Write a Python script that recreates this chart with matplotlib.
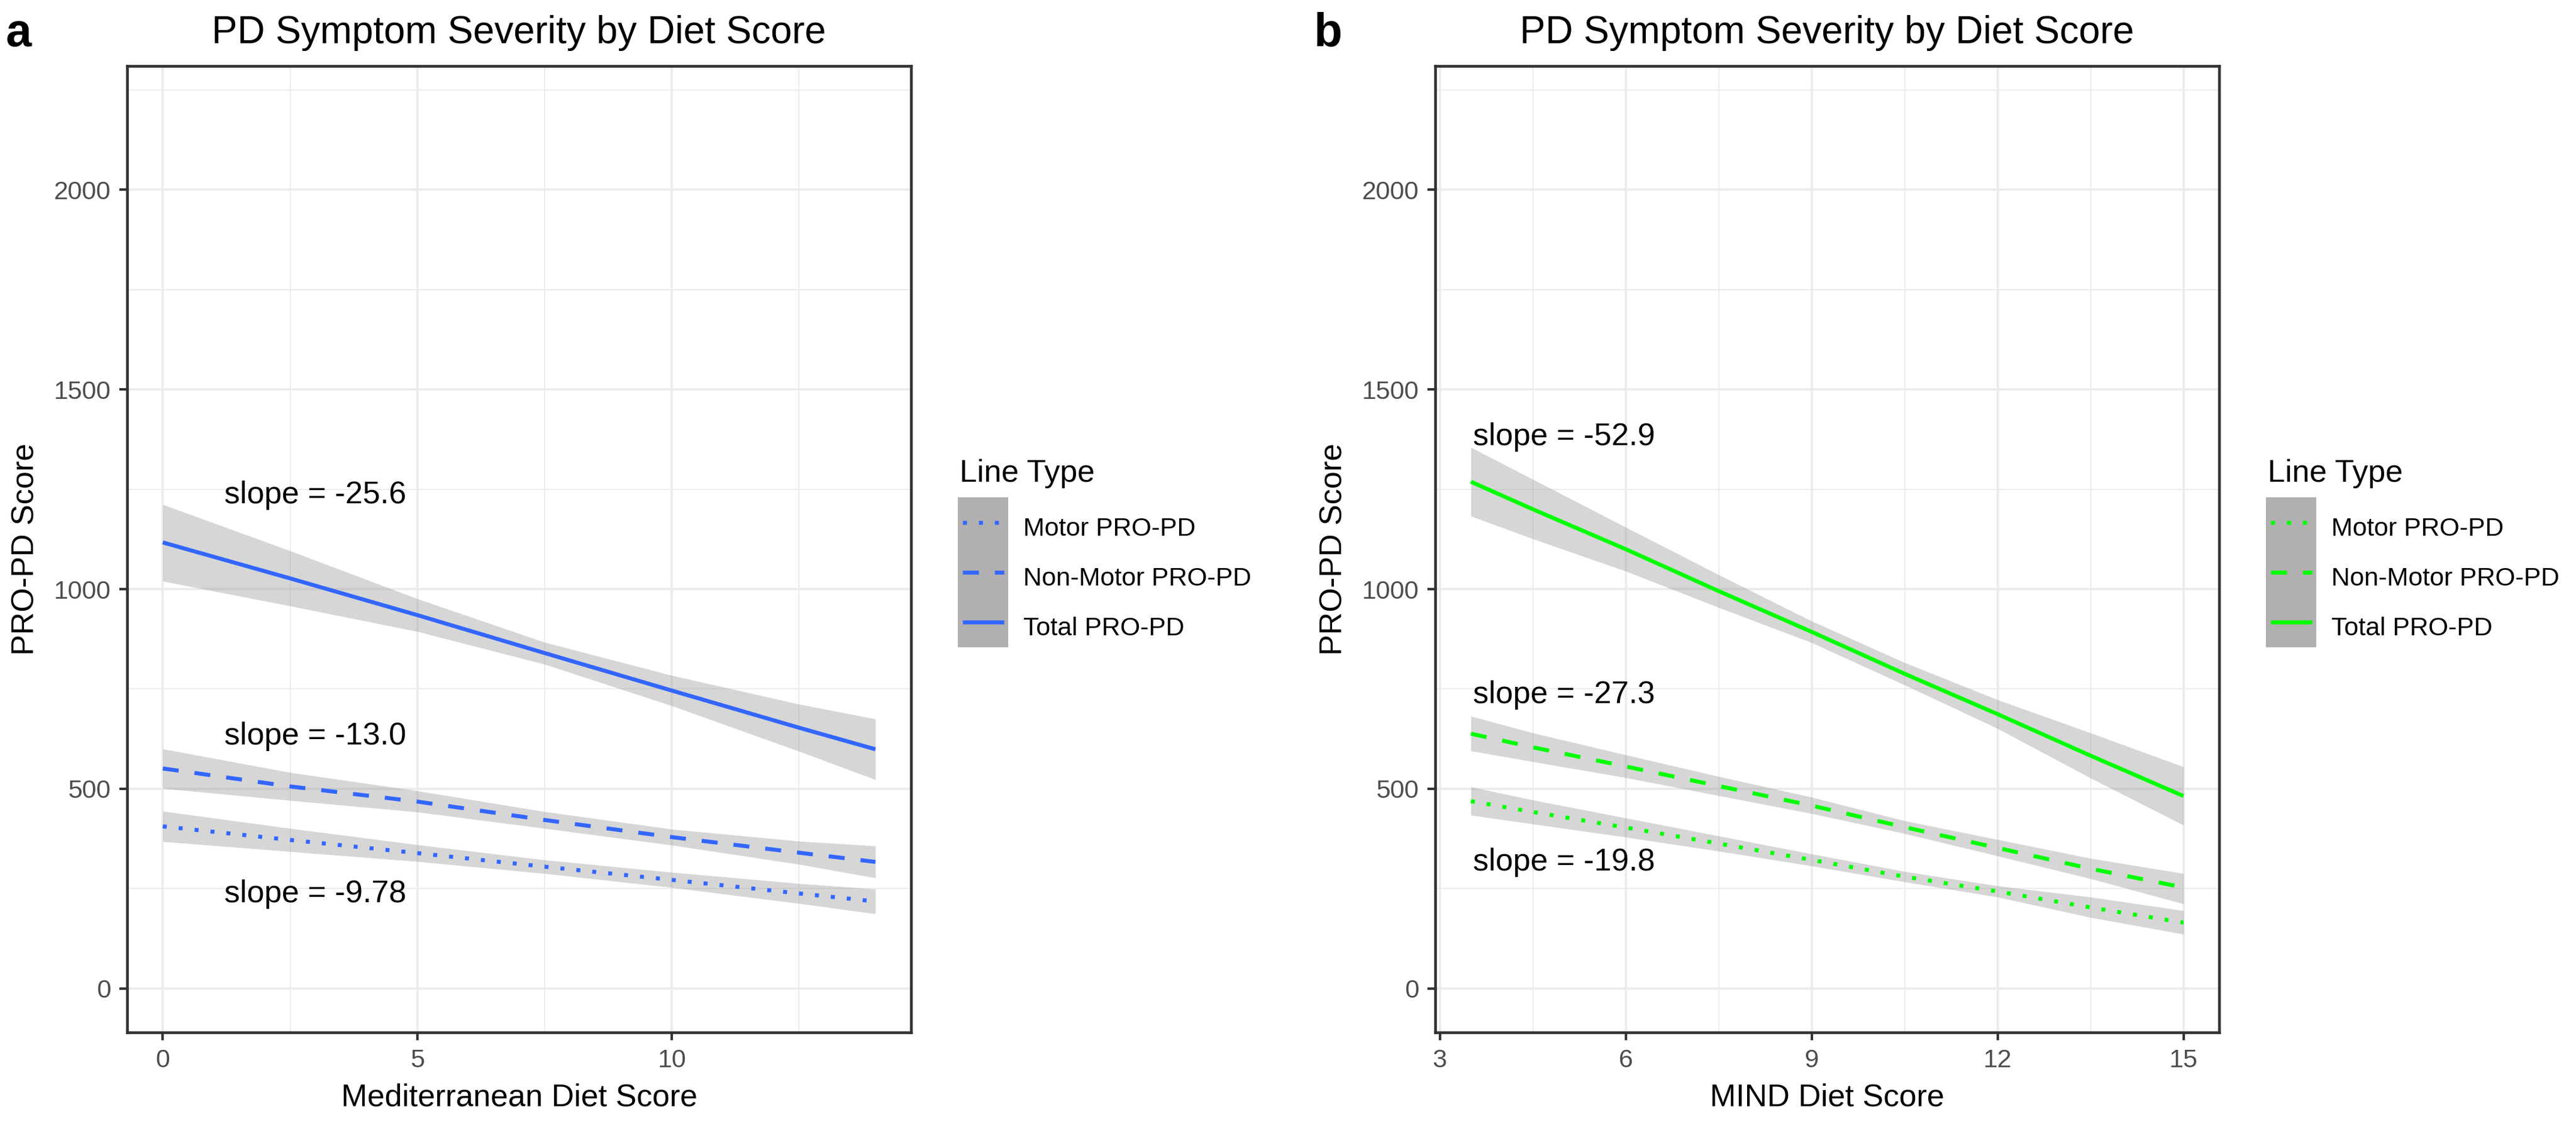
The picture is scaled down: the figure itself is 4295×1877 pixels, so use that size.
import matplotlib.pyplot as plt

plt.rcParams['font.family'] = ['Liberation Sans', 'DejaVu Sans']

# ---- data ----
# panel a: Mediterranean diet score
med_x = [0, 2.5, 5, 7.5, 10, 12.5, 14]
med_motor = [406, 372, 339, 305, 272, 238, 218]
med_motor_lo = [368, 343, 318, 288, 253, 213, 187]
med_motor_hi = [444, 401, 360, 322, 291, 263, 249]
med_nonmotor = [551, 506, 468, 422, 379, 340, 317]
med_nonmotor_lo = [501, 471, 442, 401, 359, 311, 277]
med_nonmotor_hi = [600, 541, 495, 443, 399, 369, 357]
med_total = [1117, 1027, 935, 840, 746, 653, 599]
med_total_lo = [1020, 958, 894, 812, 708, 594, 523]
med_total_hi = [1212, 1096, 976, 867, 784, 712, 675]
med_slopes = ["slope = -9.78", "slope = -13.0", "slope = -25.6"]
med_slope_y = [236, 632, 1235]

# panel b: MIND diet score
mind_x = [3.5, 4.5, 6, 7.5, 9, 10.5, 12, 13.5, 15]
mind_motor = [469, 442, 403, 363, 322, 280, 243, 203, 165]
mind_motor_lo = [434, 412, 379, 344, 307, 267, 229, 178, 136]
mind_motor_hi = [505, 472, 427, 382, 337, 293, 257, 229, 195]
mind_nonmotor = [638, 604, 556, 507, 458, 404, 352, 300, 253]
mind_nonmotor_lo = [595, 568, 528, 483, 438, 388, 332, 275, 212]
mind_nonmotor_hi = [682, 640, 585, 531, 479, 420, 373, 326, 288]
mind_total = [1269, 1200, 1100, 995, 893, 788, 687, 583, 482]
mind_total_lo = [1183, 1126, 1045, 954, 866, 760, 651, 527, 409]
mind_total_hi = [1355, 1275, 1155, 1036, 920, 816, 723, 640, 555]
mind_slopes = ["slope = -19.8", "slope = -27.3", "slope = -52.9"]
mind_slope_y = [316, 735, 1381]

series_names = ["Motor PRO-PD", "Non-Motor PRO-PD", "Total PRO-PD"]
line_styles = [(0, (1, 3)), (0, (4, 4)), '-']

y_ticks = [0, 500, 1000, 1500, 2000]
y_minor = [250, 750, 1250, 1750, 2250]

W, H = 4295, 1877
fig = plt.figure(figsize=(W / 300, H / 300), dpi=300)


def fx(px):
    return px / W


def fy(py):
    return 1 - py / H


def draw_panel(off, tag, x, lines, lows, highs, color, xlim, xticks, xminor,
               xlabel, slope_x, slopes, slope_y):
    left = 212 + off
    ax = fig.add_axes([fx(left), fy(1721), 1307 / W, 1611 / H])

    for lo, hi in zip(lows, highs):
        ax.fill_between(x, lo, hi, color='#999999', alpha=0.4, linewidth=0, zorder=2)
    for y, ls in zip(lines, line_styles):
        ax.plot(x, y, color=color, lw=1.6, ls=ls, dash_capstyle='butt',
                solid_capstyle='butt', zorder=3)

    for txt, ty in zip(slopes, slope_y):
        ax.text(slope_x, ty, txt, fontsize=12.5, ha='center', va='center', zorder=4)

    ax.set_xlim(*xlim)
    ax.set_ylim(-110, 2310)
    ax.set_xticks(xticks)
    ax.set_xticks(xminor, minor=True)
    ax.set_yticks(y_ticks)
    ax.set_yticks(y_minor, minor=True)
    ax.grid(which='major', color='#EBEBEB', lw=0.9)
    ax.grid(which='minor', color='#EBEBEB', lw=0.45)
    ax.set_axisbelow(True)
    ax.tick_params(which='major', length=3.1, width=1.0, color='#333333',
                   labelsize=10.3, labelcolor='#4D4D4D', pad=3.4)
    ax.tick_params(which='minor', length=0)
    for s in ax.spines.values():
        s.set_color('#333333')
        s.set_linewidth(1.1)

    # titles and labels
    cx = left + 653.5
    fig.text(fx(cx), fy(72), "PD Symptom Severity by Diet Score", fontsize=15.3,
             ha='center', va='baseline')
    fig.text(fx(10 + off), fy(77), tag, fontsize=18.5, fontweight='bold',
             ha='left', va='baseline')
    fig.text(fx(cx), fy(1843), xlabel, fontsize=12.5, ha='center', va='baseline')
    fig.text(fx(43 + off), fy(915), "PRO-PD Score", fontsize=12.5, rotation=90,
             ha='center', va='center')

    # legend
    fig.text(fx(1600 + off), fy(803), "Line Type", fontsize=12.5, ha='left', va='baseline')
    kax = fig.add_axes([fx(1597 + off), fy(1079), 84 / W, 250 / H])
    kax.set_xlim(0, 1)
    kax.set_ylim(len(series_names), 0)
    kax.axis('off')
    kax.fill_between([0, 1], 0, len(series_names), color='#B0B0B0', linewidth=0)
    for i, (name, ls) in enumerate(zip(series_names, line_styles)):
        kax.plot([0.095, 0.917], [i + 0.5, i + 0.5], color=color, lw=1.6, ls=ls,
                 dash_capstyle='butt', solid_capstyle='butt')
        fig.text(fx(1706 + off), fy(893 + 83 * i), name, fontsize=10.3,
                 ha='left', va='baseline')


draw_panel(0, 'a', med_x,
           [med_motor, med_nonmotor, med_total],
           [med_motor_lo, med_nonmotor_lo, med_total_lo],
           [med_motor_hi, med_nonmotor_hi, med_total_hi],
           '#3366FF', (-0.7, 14.7), [0, 5, 10], [2.5, 7.5, 12.5],
           "Mediterranean Diet Score", 3, med_slopes, med_slope_y)

draw_panel(2181, 'b', mind_x,
           [mind_motor, mind_nonmotor, mind_total],
           [mind_motor_lo, mind_nonmotor_lo, mind_total_lo],
           [mind_motor_hi, mind_nonmotor_hi, mind_total_hi],
           '#00FF00', (2.925, 15.575), [3, 6, 9, 12, 15], [4.5, 7.5, 10.5, 13.5],
           "MIND Diet Score", 5, mind_slopes, mind_slope_y)

fig.savefig('out.png', dpi=300)
